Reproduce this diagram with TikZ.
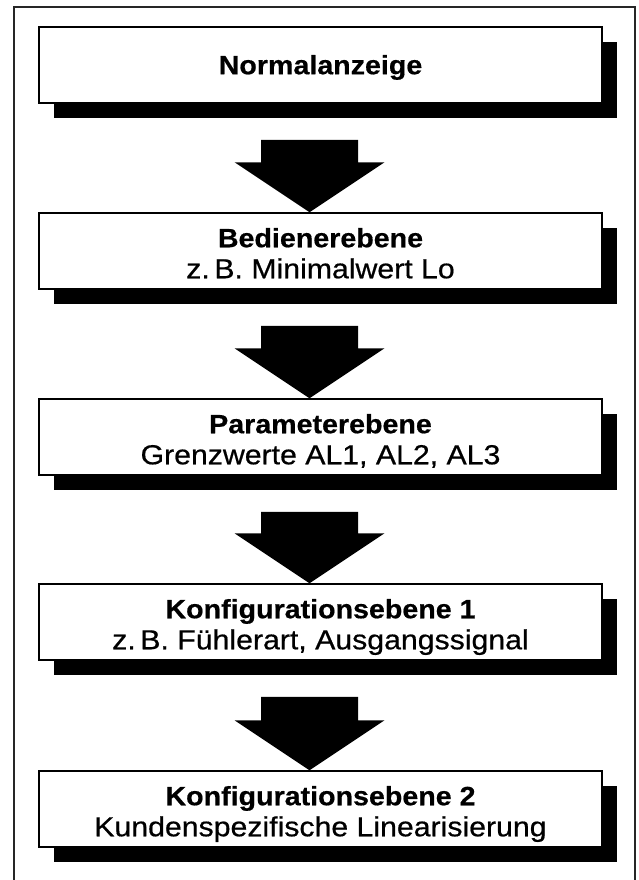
\documentclass[tikz,border=0pt]{standalone}
\usepackage{fontspec}
\setmainfont[FakeStretch=1.08,BoldFeatures={FakeBold=0.5}]{Liberation Sans}
\newfontfamily\subfont[FakeStretch=1.1,FakeBold=0.6]{Liberation Sans}
\usetikzlibrary{calc,shadows}
\tikzset{
  frameline/.style={line width=1.3pt, draw=black!85},
  levelbox/.style={draw=black, line width=1.5pt, fill=white, minimum width=563pt, minimum height=76pt, inner sep=0pt,
    drop shadow={shadow xshift=15pt, shadow yshift=-15pt, fill=black, opacity=1}},
  titletext/.style={font=\fontsize{26.5}{30}\selectfont\bfseries, anchor=base, inner sep=0pt},
  subtext/.style={font=\subfont\fontsize{27.5}{30}\selectfont, anchor=base, inner sep=0pt},
  blockarrow/.style={fill=black}
}
\newcommand\levelarrow[2]{%
  \fill[blockarrow] let \p1=(#1.south), \p2=(#2.north) in
    (\x2-59.5pt,\y1-36pt) -- (\x2+37.5pt,\y1-36pt) -- (\x2+37.5pt,\y2+50pt) -- (\x2+64pt,\y2+50pt)
    -- (\x2-11pt,\y2) -- (\x2-86pt,\y2+50pt) -- (\x2-59.5pt,\y2+50pt) -- cycle;}
\begin{document}
\begin{tikzpicture}[x=1pt,y=-1pt]
\useasboundingbox (0,0) rectangle (638,880);
\draw[frameline] (14,890) -- (14,7) -- (635,7) -- (635,890);

\node[levelbox] (b1) at (320.5,65) {};
\node[levelbox] (b2) at (320.5,251) {};
\node[levelbox] (b3) at (320.5,437) {};
\node[levelbox] (b4) at (320.5,622) {};
\node[levelbox] (b5) at (320.5,809) {};

\node[titletext] (t1) at ($(b1.north)+(0,48)$) {Normalanzeige};
\node[titletext] (t2) at ($(b2.north)+(0,35)$) {Bedienerebene};
\node[subtext]   (s2) at ($(b2.north)+(0,66)$) {z.\,B. Minimalwert Lo};
\node[titletext] (t3) at ($(b3.north)+(0,35)$) {Parameterebene};
\node[subtext]   (s3) at ($(b3.north)+(0,66)$) {Grenzwerte AL1, AL2, AL3};
\node[titletext] (t4) at ($(b4.north)+(0,35)$) {Konfigurationsebene 1};
\node[subtext]   (s4) at ($(b4.north)+(0,66)$) {z.\,B. Fühlerart, Ausgangssignal};
\node[titletext] (t5) at ($(b5.north)+(0,35)$) {Konfigurationsebene 2};
\node[subtext]   (s5) at ($(b5.north)+(0,66)$) {Kundenspezifische Linearisierung};

\levelarrow{b1}{b2}
\levelarrow{b2}{b3}
\levelarrow{b3}{b4}
\levelarrow{b4}{b5}
\end{tikzpicture}
\end{document}
